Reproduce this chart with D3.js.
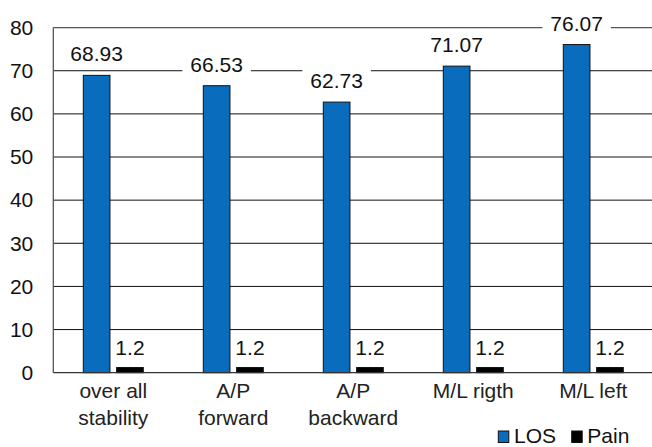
<!DOCTYPE html>
<html>
<head>
<meta charset="utf-8">
<script src="https://cdn.jsdelivr.net/npm/d3@7"></script>
<style>
  html, body { margin: 0; padding: 0; background: #fff; }
  svg { display: block; font-family: "Liberation Sans", Arial, Helvetica, sans-serif; }
</style>
</head>
<body>
<svg id="chart" width="652" height="447"></svg>
<script>
// Categories (two-line labels) and series values
const categories = ["over all stability", "A/P forward", "A/P backward", "M/L rigth", "M/L left"];
const categoryLines = [["over all", "stability"], ["A/P", "forward"], ["A/P", "backward"], ["M/L rigth"], ["M/L left"]];
const seriesNames = ["LOS", "Pain"];
const losValues = [68.93, 66.53, 62.73, 71.07, 76.07];
const painValues = [1.2, 1.2, 1.2, 1.2, 1.2];
const yTicks = [0, 10, 20, 30, 40, 50, 60, 70, 80];

const colors = { LOS: "#0a6cbd", Pain: "#000000" };
const values = { LOS: losValues, Pain: painValues };

const svg = d3.select("#chart");
const plotLeft = 53.3, plotTop = 27.6, plotH = 345.1, bandW = 120;
const plotBottom = plotTop + plotH;

const x = d3.scaleBand().domain(categories).range([plotLeft, plotLeft + bandW * categories.length]);
const xs = d3.scaleBand().domain(seriesNames).range([30, 90]).paddingInner(0.2);
const y = d3.scaleLinear().domain([0, 80]).range([plotBottom, plotTop]);

// Horizontal gridlines
svg.append("g").selectAll("line")
  .data(yTicks.filter(t => t > 0 && t < 80))
  .join("line")
  .attr("x1", plotLeft).attr("x2", 652)
  .attr("y1", d => y(d)).attr("y2", d => y(d))
  .attr("stroke", "#111").attr("stroke-width", 1);

// Top frame line and left axis line
svg.append("line").attr("x1", plotLeft).attr("x2", 652).attr("y1", y(80)).attr("y2", y(80))
  .attr("stroke", "#555").attr("stroke-width", 1.3);
svg.append("line").attr("x1", plotLeft).attr("x2", plotLeft).attr("y1", y(80)).attr("y2", y(0))
  .attr("stroke", "#555").attr("stroke-width", 1.3);

// Y tick labels
const yAxis = d3.axisLeft(y).tickValues(yTicks).tickSize(0).tickPadding(20);
const ya = svg.append("g").attr("transform", `translate(${plotLeft},0)`).call(yAxis);
ya.select(".domain").remove();
ya.selectAll("text").attr("font-size", 21).attr("fill", "#111")
  .attr("font-family", "'Liberation Sans', Arial, sans-serif");

// One group per category, with layers: label backgrounds, bars, label text
const groups = svg.append("g").selectAll("g")
  .data(categories)
  .join("g")
  .attr("transform", d => `translate(${x(d)},0)`);
const bgLayer = groups.append("g");
const barLayer = groups.append("g");
const textLayer = groups.append("g");

seriesNames.forEach(s => {
  barLayer.append("rect")
    .attr("x", xs(s))
    .attr("width", xs.bandwidth())
    .attr("y", (d, i) => y(values[s][i]))
    .attr("height", (d, i) => y(0) - y(values[s][i]))
    .attr("fill", colors[s])
    .attr("stroke", "#111")
    .attr("stroke-width", 1);
});

// Value labels with white backgrounds
seriesNames.forEach(s => {
  const off = s === "LOS" ? 14 : 13;
  textLayer.each(function(d, i) {
    const v = values[s][i];
    const cx = xs(s) + xs.bandwidth() / 2;
    const by = y(v) - off;
    const t = d3.select(this).append("text")
      .attr("x", cx).attr("y", by)
      .attr("text-anchor", "middle")
      .attr("font-size", 21).attr("fill", "#111")
      .text(v);
    const w = t.node().getComputedTextLength();
    d3.select(bgLayer.nodes()[i]).append("rect")
      .attr("x", cx - w / 2 - 8).attr("width", w + 16)
      .attr("y", by - 21).attr("height", 26)
      .attr("fill", "#fff");
  });
});

// Baseline
svg.append("line").attr("x1", plotLeft).attr("x2", 652).attr("y1", y(0)).attr("y2", y(0))
  .attr("stroke", "#333").attr("stroke-width", 1.3);

// Category labels
groups.each(function(d, i) {
  const t = d3.select(this).append("text")
    .attr("x", bandW / 2).attr("y", 397.7)
    .attr("text-anchor", "middle")
    .attr("font-size", 21).attr("fill", "#222");
  categoryLines[i].forEach((ln, j) => {
    t.append("tspan").attr("x", bandW / 2).attr("y", 397.7 + j * 27.3).text(ln);
  });
});

// Legend
const legendItems = [
  { name: "LOS", sx: 498.3, tx: 514 },
  { name: "Pain", sx: 571.7, tx: 587.3 }
];
const lg = svg.append("g");
legendItems.forEach(it => {
  lg.append("rect").attr("x", it.sx).attr("y", 431).attr("width", 10.5).attr("height", 11.5)
    .attr("fill", colors[it.name]).attr("stroke", "#111").attr("stroke-width", 1);
  lg.append("text").attr("x", it.tx).attr("y", 442.7)
    .attr("font-size", 21).attr("fill", "#111").text(it.name);
});
</script>
</body>
</html>
